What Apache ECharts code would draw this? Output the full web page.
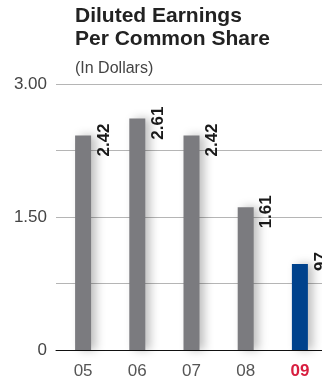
<!DOCTYPE html>
<html>
<head>
<meta charset="utf-8">
<script src="https://cdn.jsdelivr.net/npm/echarts@6/dist/echarts.min.js"></script>
<style>
  html, body { margin: 0; padding: 0; background: #fff; }
  #chart { width: 322px; height: 386px; }
</style>
</head>
<body>
<div id="chart"></div>
<script>
// Diluted earnings per common share, fiscal years 2005-2009
const years = ['05', '06', '07', '08', '09'];
const eps = [2.42, 2.61, 2.42, 1.61, 0.97];
const yTicks = [0, 1.5, 3];

const grey = '#7b7b7f';
const blue = '#00428c';
const red = '#d81e3f';
const font = 'Liberation Sans, Arial, sans-serif';

function fmtValue(v) {
  const s = v.toFixed(2);
  return v < 1 ? s.slice(1) : s;
}

const chart = echarts.init(document.getElementById('chart'), null, { renderer: 'canvas' });

chart.setOption({
  animation: false,
  title: [
    {
      text: 'Diluted Earnings\nPer Common Share',
      left: 75, top: 5, padding: 0,
      textStyle: { fontFamily: font, fontWeight: 'bold', fontSize: 21, lineHeight: 23, color: '#222' }
    },
    {
      text: '(In Dollars)',
      left: 75, top: 61, padding: 0,
      textStyle: { fontFamily: font, fontWeight: 'normal', fontSize: 16, color: '#444' }
    }
  ],
  // plot area runs slightly past the right edge, so the last label is clipped
  grid: { left: 56, width: 271, top: 84, height: 266, outerBoundsMode: 'none', containLabel: false },
  xAxis: {
    type: 'category',
    data: years,
    axisLine: { lineStyle: { color: '#111', width: 1 } },
    axisTick: { show: false },
    axisLabel: {
      interval: 0,
      margin: 13,
      fontFamily: font,
      fontSize: 17,
      color: '#555',
      formatter: function (v, i) {
        return i === years.length - 1 ? '{hl|' + v + '}' : v;
      },
      rich: { hl: { color: red, fontWeight: 'bold', fontSize: 17, fontFamily: font } }
    }
  },
  yAxis: {
    type: 'value',
    min: 0, max: 3, interval: 0.75,
    axisLine: { show: false },
    axisTick: { show: false },
    splitLine: { lineStyle: { color: '#b5b5b5', width: 1 } },
    axisLabel: {
      margin: 9,
      fontFamily: font,
      fontSize: 17,
      color: '#444',
      formatter: function (v) {
        if (!yTicks.some(t => Math.abs(t - v) < 1e-9)) return '';
        return v === 0 ? '0' : v.toFixed(2);
      }
    }
  },
  series: [{
    type: 'bar',
    barWidth: 16,
    data: eps.map((v, i) => ({
      value: v,
      itemStyle: { color: i === eps.length - 1 ? blue : grey }
    })),
    itemStyle: {
      shadowBlur: 10,
      shadowColor: 'rgba(0,0,0,0.25)',
      shadowOffsetX: 5
    },
    label: {
      show: true,
      position: 'top',
      distance: 0,
      rotate: 90,
      align: 'right',
      verticalAlign: 'middle',
      // offset is in the rotated frame: [up, right]
      offset: [12, 21],
      fontFamily: font,
      fontWeight: 'bold',
      fontSize: 17,
      color: '#1a1a1a',
      formatter: p => fmtValue(p.value)
    }
  }]
});
</script>
</body>
</html>
